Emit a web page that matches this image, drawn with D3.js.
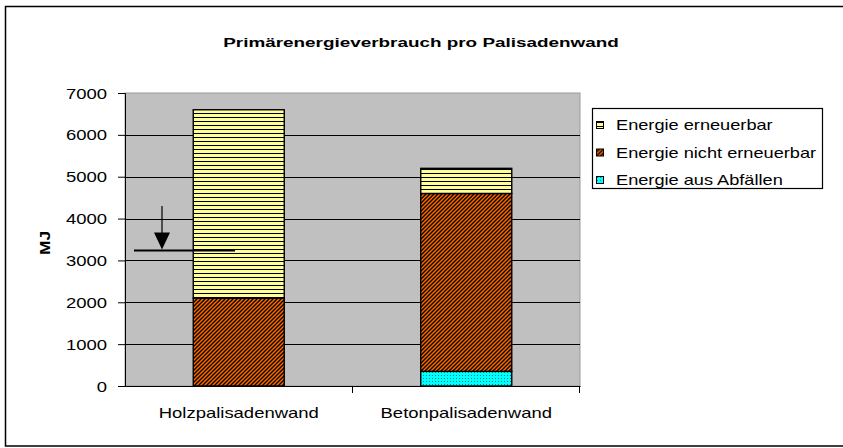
<!DOCTYPE html>
<html>
<head>
<meta charset="utf-8">
<script src="https://cdn.jsdelivr.net/npm/d3@7"></script>
<style>
  body { margin: 0; background: #fff; }
  svg text { font-family: "Liberation Sans", Arial, sans-serif; fill: #000; }
</style>
</head>
<body>
<div id="chart-area"></div>
<script>
// data
const categories = ["Holzpalisadenwand", "Betonpalisadenwand"];
const abfall = [0, 350];
const nichtErneuerbar = [2100, 4250];
const erneuerbar = [4500, 600];
const yTicks = [0, 1000, 2000, 3000, 4000, 5000, 6000, 7000];
const legendNames = ["Energie erneuerbar", "Energie nicht erneuerbar", "Energie aus Abfällen"];
// hand drawn marker next to the first bar
const markerValue = 3250;
const arrowFrom = 4300;

const width = 843, height = 448;
const plot = { left: 125, right: 580, top: 93, bottom: 386 };
const sx = 1.32; // the whole picture is stretched horizontally

let svg = d3.select("#chart-area").append("svg")
  .attr("width", width).attr("height", height);

// patterns
let defs = svg.append("defs");
let p1 = defs.append("pattern").attr("id", "pat-ern").attr("patternUnits", "userSpaceOnUse")
  .attr("width", 4).attr("height", 4);
p1.append("rect").attr("width", 4).attr("height", 4).attr("fill", "#ffff99");
p1.append("rect").attr("y", 1).attr("width", 4).attr("height", 1).attr("fill", "#000");

let p2 = defs.append("pattern").attr("id", "pat-nicht").attr("patternUnits", "userSpaceOnUse")
  .attr("width", 4).attr("height", 4);
p2.append("rect").attr("width", 4).attr("height", 4).attr("fill", "#ff6600");
p2.append("path").attr("d", "M-1,1 L1,-1 M0,4 L4,0 M3,5 L5,3")
  .attr("stroke", "#000").attr("stroke-width", 1.3);

let p3 = defs.append("pattern").attr("id", "pat-abf").attr("patternUnits", "userSpaceOnUse")
  .attr("width", 3).attr("height", 3);
p3.append("rect").attr("width", 3).attr("height", 3).attr("fill", "#00ffff");
p3.append("rect").attr("width", 1).attr("height", 1).attr("fill", "#0a7f7f");

const fills = ["url(#pat-abf)", "url(#pat-nicht)", "url(#pat-ern)"];
const legendFills = ["url(#pat-ern)", "url(#pat-nicht)", "url(#pat-abf)"];

// outer frame
svg.append("rect")
  .attr("x", 5.5).attr("y", 6.5).attr("width", 845).attr("height", 439.5)
  .attr("fill", "#fff").attr("stroke", "#000").attr("stroke-width", 1.5);

// scales
let xScale = d3.scaleBand().domain(categories).range([plot.left, plot.right]).padding(0);
let yScale = d3.scaleLinear().domain([0, 7000]).range([plot.bottom, plot.top]);

// plot background
svg.append("rect")
  .attr("x", plot.left).attr("y", plot.top)
  .attr("width", plot.right - plot.left).attr("height", plot.bottom - plot.top)
  .attr("fill", "#c0c0c0").attr("stroke", "#9a9a9a").attr("stroke-width", 1);

// grid
svg.append("g").selectAll("line")
  .data(yTicks.filter(d => d > 0 && d < 7000))
  .enter().append("line")
  .attr("x1", plot.left).attr("x2", plot.right)
  .attr("y1", d => Math.round(yScale(d)) + 0.5).attr("y2", d => Math.round(yScale(d)) + 0.5)
  .attr("stroke", "#000").attr("stroke-width", 1.2);

// stacked bars
let table = categories.map((c, i) => ({
  cat: c, abfall: abfall[i], nicht: nichtErneuerbar[i], ern: erneuerbar[i]
}));
let stack = d3.stack().keys(["abfall", "nicht", "ern"])(table);
let barW = xScale.bandwidth() * 0.4;

svg.append("g").selectAll("g")
  .data(stack).enter().append("g")
  .attr("fill", (d, i) => fills[i])
  .selectAll("rect")
  .data(d => d.filter(s => s[1] - s[0] > 0))
  .enter().append("rect")
  .attr("x", d => xScale(d.data.cat) + (xScale.bandwidth() - barW) / 2)
  .attr("y", d => yScale(d[1]))
  .attr("width", barW)
  .attr("height", d => yScale(d[0]) - yScale(d[1]))
  .attr("stroke", "#000").attr("stroke-width", 1.4);

// y axis
let yAxis = svg.append("g")
  .attr("transform", "translate(" + plot.left + ",0)")
  .call(d3.axisLeft(yScale).tickValues(yTicks).tickSize(7).tickPadding(0).tickFormat(d3.format("d")));
yAxis.select(".domain").attr("stroke", "#000");
yAxis.selectAll("text")
  .attr("font-size", 14).attr("x", -18 / sx).attr("dy", "0.36em")
  .attr("transform", "scale(" + sx + ",1)")
  .attr("font-family", "Liberation Sans, Arial, sans-serif");

// x axis
let xAxis = svg.append("g")
  .attr("transform", "translate(0," + plot.bottom + ")")
  .call(d3.axisBottom(xScale).tickSize(0).tickPadding(0));
xAxis.select(".domain").attr("stroke", "#000");
xAxis.selectAll("text")
  .attr("font-size", 14).attr("y", 32).attr("dy", 0)
  .attr("transform", "scale(" + sx + ",1)")
  .attr("font-family", "Liberation Sans, Arial, sans-serif");
// ticks between the categories
let bounds = categories.map(c => xScale(c) + xScale.bandwidth());
xAxis.selectAll(".sep").data(bounds).enter().append("line")
  .attr("x1", d => Math.round(d) - 0.5).attr("x2", d => Math.round(d) - 0.5)
  .attr("y1", 0).attr("y2", 7).attr("stroke", "#000");

// title
svg.append("text")
  .attr("transform", "translate(421,47) scale(1.4,1)")
  .attr("text-anchor", "middle").attr("font-size", 13.5).attr("font-weight", "bold")
  .text("Primärenergieverbrauch pro Palisadenwand");

// y title
svg.append("text")
  .attr("transform", "translate(50,243) rotate(-90) scale(1.2,1)")
  .attr("text-anchor", "middle").attr("font-size", 14.5).attr("font-weight", "bold")
  .text("MJ");

// legend
let legend = svg.append("g");
legend.append("rect")
  .attr("x", 592.5).attr("y", 108.5).attr("width", 230).attr("height", 80)
  .attr("fill", "#fff").attr("stroke", "#000").attr("stroke-width", 1.2);
let items = legend.selectAll(".item").data(legendNames).enter().append("g")
  .attr("transform", (d, i) => "translate(0," + (125 + i * 27.5) + ")");
items.append("rect")
  .attr("x", 596.5).attr("y", -3.5).attr("width", 7).attr("height", 7)
  .attr("fill", (d, i) => legendFills[i]).attr("stroke", "#000");
items.append("text")
  .attr("transform", "translate(616,5) scale(1.3,1)")
  .attr("font-size", 14).text(d => d);

// marker arrow
let mx = xScale(categories[0]) + 37;
let my = Math.round(yScale(markerValue)) + 0.5;
svg.append("line")
  .attr("x1", xScale(categories[0]) + 9).attr("x2", xScale(categories[0]) + 110)
  .attr("y1", my).attr("y2", my).attr("stroke", "#000").attr("stroke-width", 2);
svg.append("line")
  .attr("x1", mx).attr("x2", mx)
  .attr("y1", yScale(arrowFrom)).attr("y2", my - 14).attr("stroke", "#000").attr("stroke-width", 1.2);
svg.append("path")
  .attr("d", "M" + (mx - 8) + "," + (my - 18) + " L" + (mx + 8) + "," + (my - 18) + " L" + mx + "," + (my - 1) + "Z")
  .attr("fill", "#000");
</script>
</body>
</html>
